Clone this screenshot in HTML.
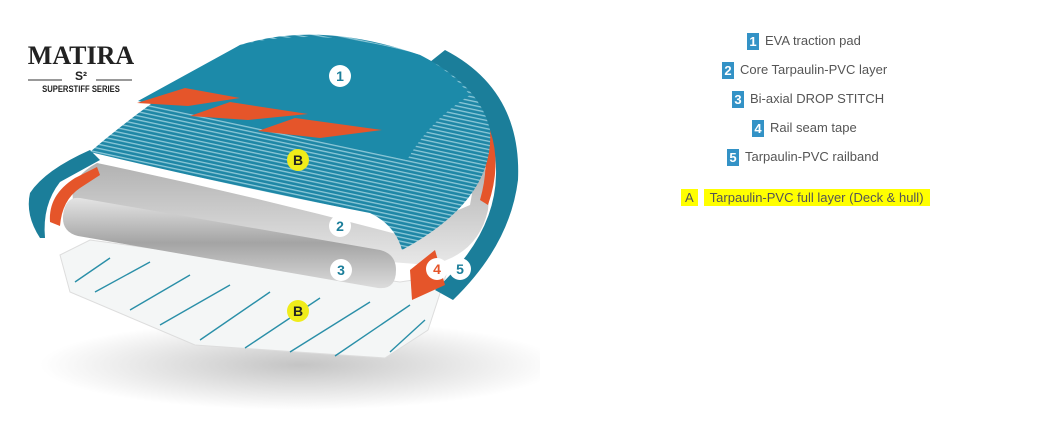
<!DOCTYPE html>
<html><head><meta charset="utf-8"><style>
body{margin:0;background:#fff;width:1044px;height:445px;overflow:hidden;position:relative;font-family:"Liberation Sans",sans-serif}
.l{position:absolute;font-size:13px;color:#555;white-space:nowrap}
.n{display:inline-block;background:#3392c6;color:#fff;font-weight:bold;width:12px;height:17px;line-height:17px;text-align:center;margin-right:6px;vertical-align:middle;font-size:13px}
.logo{position:absolute;left:26px;top:43px;width:110px;text-align:center;color:#222}
</style></head><body>
<svg width="540" height="420" style="position:absolute;left:0;top:0">
<defs>
<radialGradient id="sh" cx="0.5" cy="0.5" r="0.5"><stop offset="0" stop-color="#c4c4c4"/><stop offset="1" stop-color="#fff"/></radialGradient>
<linearGradient id="g3" x1="0" y1="0" x2="0" y2="1"><stop offset="0" stop-color="#e4e4e4"/><stop offset="0.5" stop-color="#a4a4a4"/><stop offset="1" stop-color="#dcdcdc"/></linearGradient>
<linearGradient id="g2" x1="0" y1="0" x2="0" y2="1"><stop offset="0" stop-color="#b0b0b0"/><stop offset="1" stop-color="#e8e8e8"/></linearGradient>
<pattern id="st" width="5" height="4" patternUnits="userSpaceOnUse" patternTransform="rotate(12)"><rect width="5" height="4" fill="#1f87a6"/><rect width="5" height="1.3" fill="#8cc8d8"/></pattern>
</defs>
<ellipse cx="300" cy="365" rx="260" ry="45" fill="url(#sh)"/>
<!-- bottom layer -->
<polygon points="60,255 90,240 400,282 446,275 428,330 385,358 195,345 70,292" fill="#f4f6f6" stroke="#ddd"/>
<g stroke="#2a8fa8" stroke-width="1.4">
<line x1="75" y1="282" x2="110" y2="258"/><line x1="95" y1="292" x2="150" y2="262"/><line x1="130" y1="310" x2="190" y2="275"/><line x1="160" y1="325" x2="230" y2="285"/><line x1="200" y1="340" x2="270" y2="292"/><line x1="245" y1="348" x2="320" y2="298"/><line x1="290" y1="352" x2="370" y2="302"/><line x1="335" y1="356" x2="410" y2="305"/><line x1="390" y1="352" x2="425" y2="320"/>
</g>
<!-- layer 2 -->
<path d="M97,163 Q250,195 400,235 L470,205 L478,160 Q492,170 488,210 Q478,255 430,265 L390,262 L75,208 Q65,180 97,163Z" fill="url(#g2)"/>
<!-- layer 3 -->
<path d="M80,198 L380,250 Q396,254 396,270 Q396,290 378,288 L78,236 Q62,232 63,216 Q65,196 80,198Z" fill="url(#g3)"/>
<!-- right railband -->
<path d="M445,50 Q522,90 518,180 Q510,245 453,300 L435,290 Q495,235 496,175 Q498,110 430,62Z" fill="#1b7e9a"/>
<path d="M490,130 Q502,165 488,205 L480,200 Q490,165 482,136Z" fill="#e5552a"/>
<path d="M410,270 L435,250 L445,285 L412,300Z" fill="#e5552a"/>
<!-- left fold -->
<path d="M30,193 Q45,170 90,150 L100,160 L60,182 Q42,205 45,238 L40,238 Q25,215 30,193Z" fill="#1b7e9a"/>
<path d="M50,222 Q48,195 75,178 L97,167 L100,175 L80,188 Q62,200 60,226Z" fill="#e5552a"/>
<!-- deck -->
<path d="M90,152 Q150,100 240,45 Q320,20 420,55 Q480,85 490,130 Q495,200 402,250 Q395,225 370,213 Q250,190 90,152Z" fill="url(#st)"/>
<path d="M138,101 L240,45 Q320,25 420,55 Q450,70 470,95 Q430,120 407,160 Q270,130 138,101Z" fill="#1c8aa9"/>
<polygon points="137,103 185,88 240,98 188,106" fill="#e5552a"/>
<polygon points="190,116 230,102 308,114 248,120" fill="#e5552a"/>
<polygon points="258,131 295,118 382,130 320,138" fill="#e5552a"/>
<!-- labels -->
<g font-family="Liberation Sans" font-weight="bold" font-size="14" text-anchor="middle">
<circle cx="340" cy="76" r="11" fill="#fff"/><text x="340" y="81" fill="#1b7e9a">1</text>
<circle cx="298" cy="160" r="11" fill="#f0ec1a"/><text x="298" y="165" fill="#222">B</text>
<circle cx="340" cy="226" r="11" fill="#fff"/><text x="340" y="231" fill="#1b7e9a">2</text>
<circle cx="341" cy="270" r="11" fill="#fff"/><text x="341" y="275" fill="#1b7e9a">3</text>
<circle cx="437" cy="269" r="11" fill="#fff"/><text x="437" y="274" fill="#e5552a">4</text>
<circle cx="460" cy="269" r="11" fill="#fff"/><text x="460" y="274" fill="#1b7e9a">5</text>
<circle cx="298" cy="311" r="11" fill="#f0ec1a"/><text x="298" y="316" fill="#222">B</text>
</g>
<line x1="28" y1="80" x2="62" y2="80" stroke="#333"/><line x1="96" y1="80" x2="132" y2="80" stroke="#333"/>
</svg>
<div class="logo"><div style="font-family:'Liberation Serif',serif;font-weight:900;font-size:26px;line-height:26px">MATIRA</div>
<div style="font-size:12px;font-weight:bold;line-height:14px">S²</div>
<div style="font-size:9px;font-weight:bold;line-height:12px;transform:scaleX(0.85)">SUPERSTIFF SERIES</div></div>
<div class="l" style="left:747px;top:33px"><span class="n">1</span>EVA traction pad</div>
<div class="l" style="left:722px;top:62px"><span class="n">2</span>Core Tarpaulin-PVC layer</div>
<div class="l" style="left:732px;top:91px"><span class="n">3</span>Bi-axial DROP STITCH</div>
<div class="l" style="left:752px;top:120px"><span class="n">4</span>Rail seam tape</div>
<div class="l" style="left:727px;top:149px"><span class="n">5</span>Tarpaulin-PVC railband</div>
<div class="l" style="left:681px;top:190px"><span style="background:#ffff00;padding:1px 4px;margin-right:6px">A</span><span style="background:#ffff00;padding:1px 6px">Tarpaulin-PVC full layer (Deck &amp; hull)</span></div>
</body></html>
